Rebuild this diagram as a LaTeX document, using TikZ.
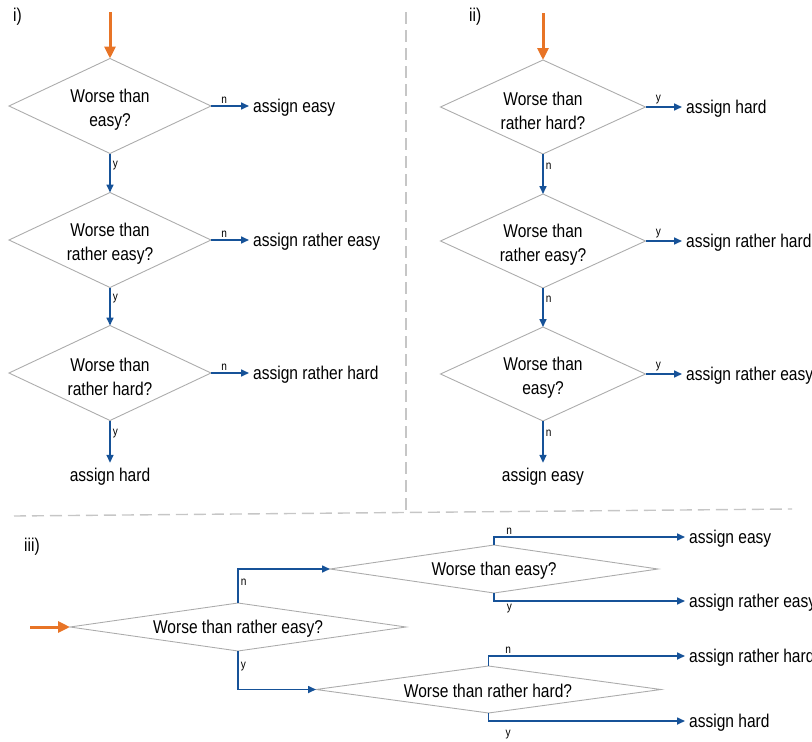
\documentclass[tikz,border=0pt]{standalone}
\usepackage{fontspec}
\setmainfont[FakeStretch=0.84]{Liberation Sans}
\usetikzlibrary{shapes.geometric,arrows.meta}
\definecolor{dgray}{RGB}{172,172,172}
\definecolor{fblue}{RGB}{22,82,152}
\definecolor{forange}{RGB}{232,116,38}
\definecolor{dashgray}{RGB}{198,198,198}
\begin{document}
\begin{tikzpicture}[x=1pt,y=-1pt,
  dia/.style 2 args={draw=dgray,line width=0.9pt,shape=diamond,inner sep=0pt,outer sep=0pt,minimum width=#1,minimum height=#2},
  qtext/.style={align=center,font=\fontsize{18.5}{24}\selectfont,inner sep=0pt},
  outtext/.style={anchor=west,font=\fontsize{18.5}{20}\selectfont,inner xsep=4pt,inner ysep=0pt,text height=13pt,text depth=1pt},
  ptext/.style={anchor=west,font=\fontsize{18.5}{20}\selectfont,inner sep=0pt},
  lab/.style={font=\fontsize{12}{14}\selectfont,inner sep=2pt},
  barrow/.style={draw=fblue,line width=1.6pt,-{Triangle[length=8pt,width=7pt]}},
  oarrow/.style={draw=forange,line width=3pt,-{Triangle[length=12pt,width=11pt]}},
  dline/.style={draw=dashgray,line width=1.4pt,dash pattern=on 12pt off 6pt}]
\useasboundingbox (0,0) rectangle (812,742);

% separators
\draw[dline] (406,12) -- (406,510);
\draw[dline] (14,516) -- (792,509);

% ---------- panel i ----------
\node[ptext] (li) at (13,17) {i)};
\coordinate (si) at (110,12);
\node[dia={202pt}{95pt}] (a1) at (110,106) {};
\node[qtext] at (110,110) {Worse than\\easy?};
\node[dia={202pt}{95pt}] (a2) at (110,240) {};
\node[qtext] at (110,244) {Worse than\\rather easy?};
\node[dia={202pt}{95pt}] (a3) at (110,373) {};
\node[qtext] at (110,377) {Worse than\\rather hard?};
\node[outtext] (e1) at (249,106) {assign easy};
\node[outtext] (e2) at (249,240) {assign rather easy};
\node[outtext] (e3) at (249,373) {assign rather hard};
\node[font=\fontsize{18.5}{20}\selectfont,inner xsep=0pt,inner ysep=5pt,text height=13pt,text depth=1pt] (e4) at (110,475) {assign hard};
\draw[oarrow] (si) -- (a1.north);
\draw[barrow] (a1.east) -- node[lab,above,pos=0.35]{n} (e1.west);
\draw[barrow] (a2.east) -- node[lab,above,pos=0.35]{n} (e2.west);
\draw[barrow] (a3.east) -- node[lab,above,pos=0.35]{n} (e3.west);
\draw[barrow] (a1.south) -- node[lab,right,pos=0.3]{y} (a2.north);
\draw[barrow] (a2.south) -- node[lab,right,pos=0.3]{y} (a3.north);
\draw[barrow] (a3.south) -- node[lab,right,pos=0.3]{y} (e4.north);

% ---------- panel ii ----------
\node[ptext] (lii) at (469,17) {ii)};
\coordinate (sii) at (543,13);
\node[dia={205pt}{94pt}] (b1) at (543,107) {};
\node[qtext] at (543,111) {Worse than\\rather hard?};
\node[dia={205pt}{94pt}] (b2) at (543,241) {};
\node[qtext] at (543,245) {Worse than\\rather easy?};
\node[dia={205pt}{94pt}] (b3) at (543,374) {};
\node[qtext] at (543,378) {Worse than\\easy?};
\node[outtext] (f1) at (682,107) {assign hard};
\node[outtext] (f2) at (682,241) {assign rather hard};
\node[outtext] (f3) at (682,374) {assign rather easy};
\node[font=\fontsize{18.5}{20}\selectfont,inner xsep=0pt,inner ysep=5pt,text height=13pt,text depth=1pt] (f4) at (543,475) {assign easy};
\draw[oarrow] (sii) -- (b1.north);
\draw[barrow] (b1.east) -- node[lab,above,pos=0.35]{y} (f1.west);
\draw[barrow] (b2.east) -- node[lab,above,pos=0.35]{y} (f2.west);
\draw[barrow] (b3.east) -- node[lab,above,pos=0.35]{y} (f3.west);
\draw[barrow] (b1.south) -- node[lab,right,pos=0.3]{n} (b2.north);
\draw[barrow] (b2.south) -- node[lab,right,pos=0.3]{n} (b3.north);
\draw[barrow] (b3.south) -- node[lab,right,pos=0.3]{n} (f4.north);

% ---------- panel iii ----------
\node[ptext] (liii) at (24,547) {iii)};
\coordinate (siii) at (30,627);
\node[dia={336pt}{48pt}] (c1) at (238,627) {};
\node[qtext] at (238,629) {Worse than rather easy?};
\node[dia={328pt}{48pt}] (c2) at (494,569) {};
\node[qtext] at (494,571) {Worse than easy?};
\node[dia={345pt}{47pt}] (c3) at (488.5,689.5) {};
\node[qtext] at (488,691) {Worse than rather hard?};
\node[outtext] (g1) at (685,537) {assign easy};
\node[outtext] (g2) at (685,601) {assign rather easy};
\node[outtext] (g3) at (685,656) {assign rather hard};
\node[outtext] (g4) at (685,721) {assign hard};
\draw[oarrow] (siii) -- (c1.west);
\draw[barrow] (c1.north) |- node[lab,right,pos=0.3]{n} (c2.west);
\draw[barrow] (c1.south) |- node[lab,right,pos=0.2]{y} (c3.west);
\draw[barrow] (c2.north) |- node[lab,above,pos=0.54]{n} (g1.west);
\draw[barrow] (c2.south) |- node[lab,below,pos=0.54]{y} (g2.west);
\draw[barrow] (c3.north) |- node[lab,above,pos=0.55]{n} (g3.west);
\draw[barrow] (c3.south) |- node[lab,below=6pt,pos=0.55]{y} (g4.west);
\end{tikzpicture}
\end{document}
